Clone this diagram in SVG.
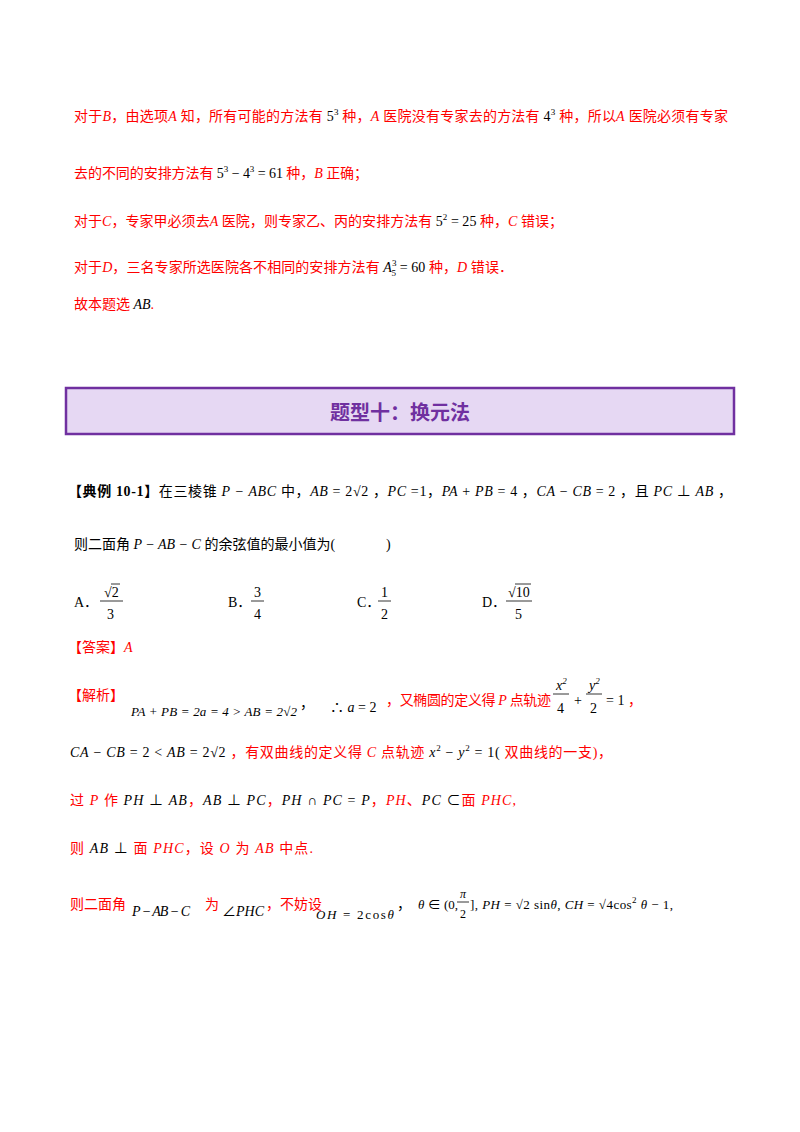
<svg xmlns="http://www.w3.org/2000/svg" width="800" height="1132" viewBox="0 0 800 1132">
<style>
text{font-family:"Liberation Serif","Noto Sans CJK SC",serif;font-size:14px;fill:#000}
.r{fill:#ff0000}
.i{font-style:italic}
.s{font-size:9px}
.b{font-weight:bold}
line{stroke:#000;stroke-width:0.8}
</style>
<rect width="800" height="1132" fill="#fff"/>
<text x="74" y="121" class="r" textLength="654" lengthAdjust="spacing">对于<tspan class="i">B</tspan>，由选项<tspan class="i">A</tspan> 知，所有可能的方法有 <tspan fill="#000">5</tspan><tspan class="s" dy="-6" fill="#000">3</tspan><tspan dy="6"> 种，</tspan><tspan class="i">A</tspan> 医院没有专家去的方法有 <tspan fill="#000">4</tspan><tspan class="s" dy="-6" fill="#000">3</tspan><tspan dy="6"> 种，所以</tspan><tspan class="i">A</tspan> 医院必须有专家</text>
<text x="74" y="178" class="r" textLength="294" lengthAdjust="spacing">去的不同的安排方法有 <tspan fill="#000">5</tspan><tspan class="s" dy="-6" fill="#000">3</tspan><tspan dy="6" fill="#000"> − 4</tspan><tspan class="s" dy="-6" fill="#000">3</tspan><tspan dy="6" fill="#000"> = 61</tspan> 种，<tspan class="i">B</tspan> 正确；</text>
<text x="74" y="226" class="r" textLength="489" lengthAdjust="spacing">对于<tspan class="i">C</tspan>，专家甲必须去<tspan class="i">A</tspan> 医院，则专家乙、丙的安排方法有 <tspan fill="#000">5</tspan><tspan class="s" dy="-6" fill="#000">2</tspan><tspan dy="6" fill="#000"> = 25</tspan> 种，<tspan class="i">C</tspan> 错误；</text>
<text x="74" y="272" class="r" textLength="439" lengthAdjust="spacing">对于<tspan class="i">D</tspan>，三名专家所选医院各不相同的安排方法有 <tspan fill="#000" class="i">A</tspan><tspan class="s" dy="-6" fill="#000">3</tspan><tspan class="s" dx="-5" dy="10" fill="#000">5</tspan><tspan dy="-4" fill="#000"> = 60</tspan> 种，<tspan class="i">D</tspan> 错误．</text>
<text x="74" y="309" class="r">故本题选 <tspan class="i" fill="#000">AB</tspan>.</text>

<g id="banner">
<rect x="66" y="388" width="668" height="46" fill="#e6d8f3" stroke="#7030a0" stroke-width="2.5"/>
<text x="400" y="420" text-anchor="middle" class="b" style="font-size:20px;fill:#7030a0;font-family:'Noto Sans CJK SC',sans-serif">题型十：换元法</text>
</g>

<text x="68" y="496" textLength="664" lengthAdjust="spacing"><tspan class="b">【典例 10-1】</tspan>在三棱锥 <tspan class="i">P − ABC</tspan> 中，<tspan class="i">AB</tspan> = 2√2 ，<tspan class="i">PC</tspan> =1，<tspan class="i">PA</tspan> + <tspan class="i">PB</tspan> = 4 ，<tspan class="i">CA</tspan> − <tspan class="i">CB</tspan> = 2 ，且 <tspan class="i">PC</tspan> ⊥ <tspan class="i">AB</tspan> ，</text>
<text x="74" y="549">则二面角 <tspan class="i">P − AB − C</tspan> 的余弦值的最小值为(</text>
<text x="386" y="549">)</text>

<g id="options">
<text x="74" y="607">A．</text>
<text x="104" y="597">√2</text><line x1="111" y1="584" x2="120" y2="584"/><line x1="100" y1="601" x2="123" y2="601"/><text x="107" y="619">3</text>
<text x="228" y="607">B．</text>
<text x="254" y="597">3</text><line x1="251" y1="601" x2="264" y2="601"/><text x="254" y="619">4</text>
<text x="357" y="607">C．</text>
<text x="381" y="597">1</text><line x1="378" y1="601" x2="391" y2="601"/><text x="381" y="619">2</text>
<text x="482" y="607">D．</text>
<text x="508" y="597">√10</text><line x1="515" y1="584" x2="531" y2="584"/><line x1="506" y1="601" x2="532" y2="601"/><text x="515" y="619">5</text>
</g>

<text x="68" y="652" class="r">【答案】<tspan class="i">A</tspan></text>

<text x="68" y="700" class="r">【解析】</text>
<text x="131" y="716" class="i" style="font-size:13px" textLength="166" lengthAdjust="spacing">PA + PB = 2a = 4 &gt; AB = 2√2</text>
<text x="300" y="708">，</text>
<text x="330" y="712">∴ <tspan class="i">a</tspan> = 2</text>
<text x="386" y="705" class="r" textLength="165" lengthAdjust="spacing">，又椭圆的定义得 <tspan class="i">P</tspan> 点轨迹</text>
<text x="556" y="690" class="i">x<tspan class="s" dy="-6">2</tspan></text><line x1="553" y1="694" x2="569" y2="694"/><text x="557" y="713">4</text>
<text x="574" y="705">+</text>
<text x="589" y="690" class="i">y<tspan class="s" dy="-6">2</tspan></text><line x1="586" y1="694" x2="602" y2="694"/><text x="590" y="713">2</text>
<text x="606" y="705">= 1 <tspan class="r">，</tspan></text>

<text x="70" y="757" textLength="542" lengthAdjust="spacing"><tspan class="i">CA</tspan> − <tspan class="i">CB</tspan> = 2 &lt; <tspan class="i">AB</tspan> = 2√2 <tspan class="r">，有双曲线的定义得 <tspan class="i">C</tspan> 点轨迹 </tspan><tspan class="i">x</tspan><tspan class="s" dy="-6">2</tspan><tspan dy="6"> − </tspan><tspan class="i">y</tspan><tspan class="s" dy="-6">2</tspan><tspan dy="6"> = 1( </tspan><tspan class="r">双曲线的一支)，</tspan></text>

<text x="70" y="805" class="r" textLength="446" lengthAdjust="spacing">过 <tspan class="i">P</tspan> 作 <tspan fill="#000"><tspan class="i">PH</tspan> ⊥ <tspan class="i">AB</tspan></tspan>，<tspan fill="#000"><tspan class="i">AB</tspan> ⊥ <tspan class="i">PC</tspan></tspan>，<tspan fill="#000"><tspan class="i">PH</tspan> ∩ <tspan class="i">PC</tspan> = <tspan class="i">P</tspan></tspan>，<tspan class="i">PH</tspan>、<tspan fill="#000"><tspan class="i">PC</tspan> ⊂</tspan>面 <tspan class="i">PHC</tspan>,</text>

<text x="70" y="853" class="r" textLength="243" lengthAdjust="spacing">则 <tspan fill="#000"><tspan class="i">AB</tspan> ⊥</tspan> 面 <tspan class="i">PHC</tspan>，设 <tspan class="i">O</tspan> 为 <tspan class="i">AB</tspan> 中点.</text>

<text x="70" y="909" class="r">则二面角</text>
<text x="132" y="916" class="i" textLength="58" lengthAdjust="spacing">P − AB − C</text>
<text x="205" y="909" class="r">为</text>
<text x="222" y="916">∠<tspan class="i">PHC</tspan></text>
<text x="266" y="909" class="r">，不妨设</text>
<text x="316" y="919" style="font-size:13px" textLength="78" lengthAdjust="spacing"><tspan class="i">OH</tspan> = 2cos<tspan class="i">θ</tspan></text>
<text x="397" y="909">，</text>
<text x="418" y="909" style="font-size:13px"><tspan class="i">θ</tspan> ∈ (0,</text>
<text x="460" y="898" class="i" style="font-size:12px">π</text><line x1="457" y1="902" x2="469" y2="902"/><text x="460" y="918" style="font-size:12px">2</text>
<text x="470" y="909" style="font-size:13px" textLength="203" lengthAdjust="spacing">], <tspan class="i">PH</tspan> = √2 sin<tspan class="i">θ</tspan>, <tspan class="i">CH</tspan> = √4cos<tspan class="s" dy="-6">2</tspan><tspan dy="6"> </tspan><tspan class="i">θ</tspan> − 1,</text>
</svg>
